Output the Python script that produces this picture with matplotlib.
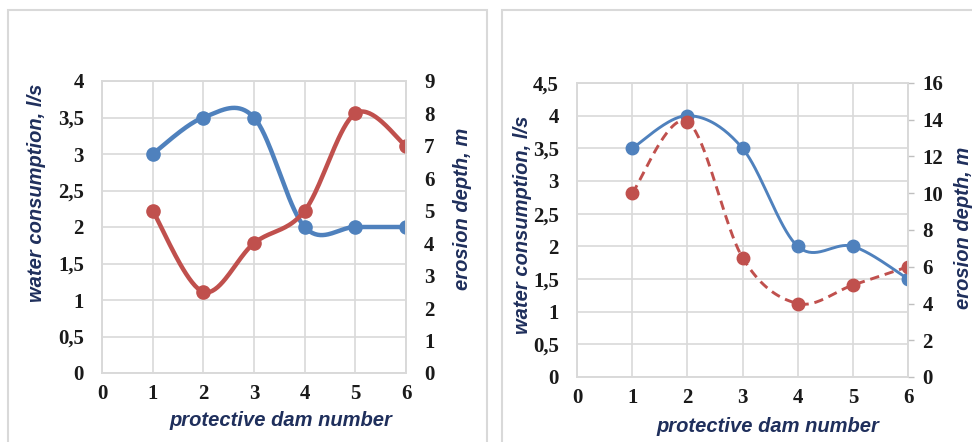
#!/usr/bin/env python3
"""Water consumption and erosion depth per protective dam, two panels."""

import matplotlib
matplotlib.use("Agg")
import matplotlib.pyplot as plt
import numpy as np
from matplotlib.patches import Rectangle

dams = [1, 2, 3, 4, 5, 6]

# left panel
water_a = [3.0, 3.5, 3.5, 2.0, 2.0, 2.0]
erosion_a = [5.0, 2.5, 4.0, 5.0, 8.0, 7.0]

# right panel
water_b = [3.5, 4.0, 3.5, 2.0, 2.0, 1.5]
erosion_b = [10.0, 13.9, 6.5, 4.0, 5.0, 6.0]

x_ticks = [0, 1, 2, 3, 4, 5, 6]
water_ticks_a = [0, 0.5, 1, 1.5, 2, 2.5, 3, 3.5, 4]
erosion_ticks_a = list(range(0, 10))
water_ticks_b = [0, 0.5, 1, 1.5, 2, 2.5, 3, 3.5, 4, 4.5]
erosion_ticks_b = list(range(0, 17, 2))

BLUE = "#4f81bd"
RED = "#c0504d"
GRID = "#d9d9d9"
LABEL = "#1f2f5c"
TICK_FONT = dict(family="Liberation Serif", weight="bold", size=15)
LABEL_FONT = dict(family="Liberation Sans", weight="bold", style="italic", size=14.5)


def smooth(x, y, n=40):
    """Excel-like smoothed line (Catmull-Rom as cubic Bezier segments)."""
    p = np.column_stack([x, y]).astype(float)
    p_ext = np.vstack([p[0], p, p[-1]])
    t = np.linspace(0, 1, n)[:, None]
    out = []
    for i in range(len(p) - 1):
        p0, p1, p2, p3 = p_ext[i], p_ext[i + 1], p_ext[i + 2], p_ext[i + 3]
        c1 = p1 + (p2 - p0) / 6
        c2 = p2 - (p3 - p1) / 6
        seg = ((1 - t) ** 3) * p1 + 3 * ((1 - t) ** 2) * t * c1 + 3 * (1 - t) * t ** 2 * c2 + t ** 3 * p2
        out.append(seg if i == 0 else seg[1:])
    out = np.vstack(out)
    return out[:, 0], out[:, 1]


def fmt(v):
    return f"{v:g}".replace(".", ",")


def panel(fig, rect, water, erosion, wticks, eticks, lw, ms, dashed, right_ticks):
    ax = fig.add_axes(rect)
    ax2 = ax.twinx()

    ax.set_xlim(0, 6)
    ax.set_ylim(0, wticks[-1])
    ax2.set_ylim(0, eticks[-1])
    ax.set_xticks(x_ticks)
    ax.set_xticklabels([str(v) for v in x_ticks], **TICK_FONT)
    ax.set_yticks(wticks)
    ax.set_yticklabels([fmt(v) for v in wticks], **TICK_FONT)
    ax2.set_yticks(eticks)
    ax2.set_yticklabels([str(v) for v in eticks], **TICK_FONT)

    ax.grid(True, color=GRID, linewidth=1.2)
    ax.set_axisbelow(True)
    for a in (ax, ax2):
        for sp in a.spines.values():
            sp.set_color(GRID)
            sp.set_linewidth(1.2)
    ax.tick_params(axis="both", length=0, colors="#1a1a1a")
    ax.tick_params(axis="y", pad=13)
    ax.tick_params(axis="x", pad=8)
    if right_ticks:
        ax2.tick_params(axis="y", length=4.5, width=1.0, color="#bfbfbf", pad=6, labelcolor="#1a1a1a")
    else:
        ax2.tick_params(axis="y", length=0, pad=13, labelcolor="#1a1a1a")

    sx, sy = smooth(dams, water)
    ax.plot(sx, sy, color=BLUE, linewidth=lw, solid_capstyle="round")
    ax.plot(dams, water, "o", color=BLUE, markersize=ms)

    ex, ey = smooth(dams, erosion)
    style = (0, (3.2, 2.0)) if dashed else "-"
    ax2.plot(ex, ey, color=RED, linewidth=lw, linestyle=style, solid_capstyle="round")
    ax2.plot(dams, erosion, "o", color=RED, markersize=ms)
    return ax, ax2


fig = plt.figure(figsize=(9.72, 4.42), dpi=100)
W, H = 972, 442

# panel frames
fig.patches.append(Rectangle((8 / W, -0.05), 479 / W, 432 / H + 0.05, transform=fig.transFigure,
                             fill=False, edgecolor=GRID, linewidth=1.5))
fig.patches.append(Rectangle((502 / W, -0.05), 480 / W, 432 / H + 0.05, transform=fig.transFigure,
                             fill=False, edgecolor=GRID, linewidth=1.5))

panel(fig, [102 / W, (H - 373) / H, 304 / W, 292 / H], water_a, erosion_a,
      water_ticks_a, erosion_ticks_a, lw=3.2, ms=9.5, dashed=False, right_ticks=False)
panel(fig, [577 / W, (H - 377) / H, 331 / W, 294 / H], water_b, erosion_b,
      water_ticks_b, erosion_ticks_b, lw=2.1, ms=9, dashed=True, right_ticks=True)

# axis titles
fig.text(37 / W, 1 - 193 / H, "water consumption, l/s", rotation=90, ha="center", va="center",
         color=LABEL, **LABEL_FONT)
fig.text(462 / W, 1 - 209 / H, "erosion depth, m", rotation=90, ha="center", va="center",
         color=LABEL, **LABEL_FONT)
fig.text(281 / W, 1 - 421 / H, "protective dam number", ha="center", va="center",
         color=LABEL, **LABEL_FONT)
fig.text(522 / W, 1 - 225 / H, "water consumption, l/s", rotation=90, ha="center", va="center",
         color=LABEL, **LABEL_FONT)
fig.text(963 / W, 1 - 228 / H, "erosion depth, m", rotation=90, ha="center", va="center",
         color=LABEL, **LABEL_FONT)
fig.text(768 / W, 1 - 426 / H, "protective dam number", ha="center", va="center",
         color=LABEL, **LABEL_FONT)

fig.savefig("out.png", dpi=100)
